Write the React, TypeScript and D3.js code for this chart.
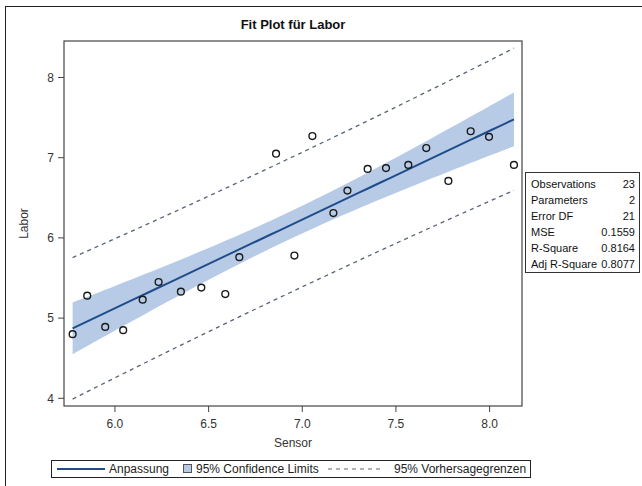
import React from "react";
import * as d3 from "d3";

const sensor = [
  5.774, 5.852, 5.948, 6.044, 6.148, 6.233, 6.352, 6.461, 6.589, 6.664, 6.958, 7.166,
  6.86, 7.054, 7.241, 7.349, 7.447, 7.566, 7.662, 7.78, 7.899, 7.997, 8.13,
];
const labor = [
  4.8, 5.28, 4.89, 4.85, 5.23, 5.45, 5.33, 5.38, 5.3, 5.76, 5.78, 6.31,
  7.05, 7.27, 6.59, 6.86, 6.87, 6.91, 7.12, 6.71, 7.33, 7.26, 6.91,
];
const xTicks = [6.0, 6.5, 7.0, 7.5, 8.0];
const yTicks = [4, 5, 6, 7, 8];
const statLabels = ["Observations", "Parameters", "Error DF", "MSE", "R-Square", "Adj R-Square"];
const statValues = ["23", "2", "21", "0.1559", "0.8164", "0.8077"];
const T_975_21 = 2.0796;

const W = 642;
const H = 486;
const m = { left: 64, right: 522, top: 41, bottom: 406 };
const FONT = "'Liberation Sans', Arial, sans-serif";

function fit() {
  const n = sensor.length;
  const xm = d3.mean(sensor) as number;
  const ym = d3.mean(labor) as number;
  let sxx = 0, sxy = 0;
  sensor.forEach((x, i) => {
    sxx += (x - xm) * (x - xm);
    sxy += (x - xm) * (labor[i] - ym);
  });
  const b = sxy / sxx;
  const a = ym - b * xm;
  let sse = 0;
  sensor.forEach((x, i) => {
    const r = labor[i] - (a + b * x);
    sse += r * r;
  });
  const mse = sse / (n - 2);
  const [lo, hi] = d3.extent(sensor) as [number, number];
  const pts = d3.range(0, 61).map((k) => {
    const x = lo + ((hi - lo) * k) / 60;
    const yhat = a + b * x;
    const h = 1 / n + ((x - xm) * (x - xm)) / sxx;
    const ci = T_975_21 * Math.sqrt(mse * h);
    const pi = T_975_21 * Math.sqrt(mse * (1 + h));
    return { x, yhat, cl: yhat - ci, cu: yhat + ci, pl: yhat - pi, pu: yhat + pi };
  });
  return pts;
}

export default function App() {
  const x = d3.scaleLinear().domain([5.728, 8.173]).range([m.left, m.right]);
  const y = d3.scaleLinear().domain([3.904, 8.455]).range([m.bottom, m.top]);
  const pts = fit();

  const band = d3
    .area<any>()
    .x((d) => x(d.x))
    .y0((d) => y(d.cl))
    .y1((d) => y(d.cu))(pts) as string;
  const line = (key: string) =>
    d3
      .line<any>()
      .x((d) => x(d.x))
      .y((d) => y(d[key]))(pts) as string;

  const fill = "#b7cbe6";
  const blue = "#1f4d8c";
  const dash = "#586378";

  return (
    <svg width={W} height={H} style={{ position: "absolute", left: 0, top: 0 }} fontFamily={FONT}>
      <rect x={0} y={0} width={W} height={H} fill="#fff" />
      <rect x={5.5} y={6.5} width={W + 10} height={H + 10} fill="none" stroke="#222" strokeWidth={1} />

      <text x={(m.left + m.right) / 2} y={29} textAnchor="middle" fontSize={13} fontWeight="bold" fill="#111">
        Fit Plot für Labor
      </text>

      <path d={band} fill={fill} />
      <path d={line("pu")} fill="none" stroke={dash} strokeWidth={1.3} strokeDasharray="4,4" />
      <path d={line("pl")} fill="none" stroke={dash} strokeWidth={1.3} strokeDasharray="4,4" />
      <path d={line("yhat")} fill="none" stroke={blue} strokeWidth={2} />

      {sensor.map((s, i) => (
        <circle key={i} cx={x(s)} cy={y(labor[i])} r={3.4} fill="none" stroke="#1a1a1a" strokeWidth={1.4} />
      ))}

      <rect
        x={m.left}
        y={m.top}
        width={m.right - m.left}
        height={m.bottom - m.top}
        fill="none"
        stroke="#444"
        strokeWidth={1.2}
      />

      {xTicks.map((t) => (
        <g key={t} transform={`translate(${x(t)},${m.bottom})`}>
          <line y1={0} y2={6} stroke="#444" />
          <text y={22} textAnchor="middle" fontSize={12} fill="#333">
            {t.toFixed(1)}
          </text>
        </g>
      ))}
      {yTicks.map((t) => (
        <g key={t} transform={`translate(${m.left},${y(t)})`}>
          <line x1={-6} x2={0} stroke="#444" />
          <text x={-10} dy="0.35em" textAnchor="end" fontSize={12} fill="#333">
            {t}
          </text>
        </g>
      ))}

      <text x={(m.left + m.right) / 2} y={447} textAnchor="middle" fontSize={12} fill="#333">
        Sensor
      </text>
      <text
        transform={`translate(28,${(m.top + m.bottom) / 2}) rotate(-90)`}
        textAnchor="middle"
        fontSize={12}
        fill="#333"
      >
        Labor
      </text>

      {/* Statistik-Kasten */}
      <rect x={525.5} y={172.5} width={114} height={100} fill="#fff" stroke="#333" />
      {statLabels.map((l, i) => (
        <g key={l}>
          <text x={531} y={188 + i * 16} fontSize={11} fill="#111">
            {l}
          </text>
          <text x={635} y={188 + i * 16} fontSize={11} fill="#111" textAnchor="end">
            {statValues[i]}
          </text>
        </g>
      ))}

      {/* Legende */}
      <rect x={51.5} y={460.5} width={479} height={17} fill="#fff" stroke="#222" />
      <line x1={57} x2={105} y1={469} y2={469} stroke={blue} strokeWidth={2} />
      <text x={109} y={473} fontSize={12} fill="#222">
        Anpassung
      </text>
      <rect x={183.5} y={464.5} width={8} height={8} fill={fill} stroke="#555" />
      <text x={196} y={473} fontSize={12} fill="#222">
        95% Confidence Limits
      </text>
      <line x1={328} x2={382} y1={469} y2={469} stroke={dash} strokeWidth={1.2} strokeDasharray="4,4" />
      <text x={394} y={473} fontSize={12} fill="#222">
        95% Vorhersagegrenzen
      </text>
    </svg>
  );
}
